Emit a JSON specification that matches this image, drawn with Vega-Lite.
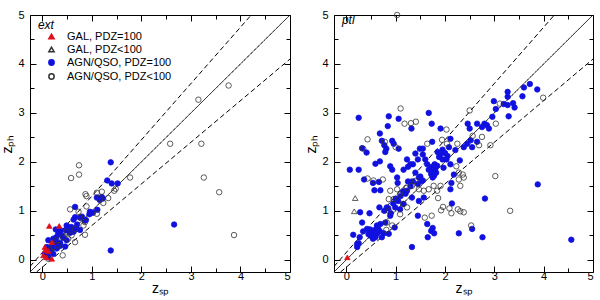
{
 "$schema": "https://vega.github.io/schema/vega-lite/v6.json",
 "padding": {"left": 0, "top": 8, "right": 0, "bottom": 0},
 "background": "white",
 "spacing": 13,
 "config": {
   "view": {"stroke": "black", "strokeWidth": 1},
   "font": "Liberation Sans",
   "axis": {"domain": false, "grid": false, "tickColor": "black", "labelColor": "black", "labelFontSize": 11, "labelFont": "Liberation Sans", "titleFont": "Liberation Sans", "titleFontSize": 14, "titleFontWeight": "normal", "titleColor": "black"},
   "axisX": {"titlePadding": 0, "labelPadding": 4},
   "axisY": {"titlePadding": 3, "labelPadding": 12}
 },
 "datasets": {
  "lines": [
   {"kind": "one", "zsp": -0.25, "zph": -0.25}, {"kind": "one", "zsp": 5, "zph": 5},
   {"kind": "upper", "zsp": -0.25, "zph": -0.1375}, {"kind": "upper", "zsp": 4.217, "zph": 5},
   {"kind": "lower", "zsp": -0.1176, "zph": -0.25}, {"kind": "lower", "zsp": 5, "zph": 4.1}
  ],
  "ext": [
   {"type":"AGN/QSO, PDZ=100","zsp":1.38,"zph":1.99},{"type":"AGN/QSO, PDZ=100","zsp":1.31,"zph":1.62},{"type":"AGN/QSO, PDZ=100","zsp":1.40,"zph":1.56},{"type":"AGN/QSO, PDZ=100","zsp":1.52,"zph":1.56},{"type":"AGN/QSO, PDZ=100","zsp":1.10,"zph":1.27},{"type":"AGN/QSO, PDZ=100","zsp":1.20,"zph":1.28},{"type":"AGN/QSO, PDZ=100","zsp":1.16,"zph":1.22},{"type":"AGN/QSO, PDZ=100","zsp":1.11,"zph":1.02},{"type":"AGN/QSO, PDZ=100","zsp":0.96,"zph":0.98},{"type":"AGN/QSO, PDZ=100","zsp":0.66,"zph":1.08},{"type":"AGN/QSO, PDZ=100","zsp":0.95,"zph":0.93},{"type":"AGN/QSO, PDZ=100","zsp":0.66,"zph":0.87},{"type":"AGN/QSO, PDZ=100","zsp":0.76,"zph":0.86},{"type":"AGN/QSO, PDZ=100","zsp":0.63,"zph":0.82},{"type":"AGN/QSO, PDZ=100","zsp":0.88,"zph":0.81},{"type":"AGN/QSO, PDZ=100","zsp":2.66,"zph":0.72},{"type":"AGN/QSO, PDZ=100","zsp":1.38,"zph":0.19},{"type":"AGN/QSO, PDZ=100","zsp":0.49,"zph":0.70},{"type":"AGN/QSO, PDZ=100","zsp":0.58,"zph":0.67},{"type":"AGN/QSO, PDZ=100","zsp":0.69,"zph":0.63},{"type":"AGN/QSO, PDZ=100","zsp":0.48,"zph":0.60},{"type":"AGN/QSO, PDZ=100","zsp":0.37,"zph":0.60},{"type":"AGN/QSO, PDZ=100","zsp":0.28,"zph":0.46},{"type":"AGN/QSO, PDZ=100","zsp":0.12,"zph":0.40},{"type":"AGN/QSO, PDZ=100","zsp":0.22,"zph":0.43},{"type":"AGN/QSO, PDZ=100","zsp":0.39,"zph":0.50},{"type":"AGN/QSO, PDZ=100","zsp":0.49,"zph":0.40},{"type":"AGN/QSO, PDZ=100","zsp":0.09,"zph":0.26},{"type":"AGN/QSO, PDZ=100","zsp":0.19,"zph":0.27},{"type":"AGN/QSO, PDZ=100","zsp":0.29,"zph":0.23},{"type":"AGN/QSO, PDZ=100","zsp":0.15,"zph":0.16},{"type":"AGN/QSO, PDZ=100","zsp":0.05,"zph":0.12},{"type":"AGN/QSO, PDZ=100","zsp":0.22,"zph":0.12},{"type":"AGN/QSO, PDZ=100","zsp":0.12,"zph":0.05},{"type":"AGN/QSO, PDZ=100","zsp":0.36,"zph":0.34},{"type":"AGN/QSO, PDZ=100","zsp":0.46,"zph":0.27},{"type":"AGN/QSO, PDZ=100","zsp":0.56,"zph":0.55},{"type":"AGN/QSO, PDZ=100","zsp":0.63,"zph":0.57},{"type":"AGN/QSO, PDZ=100","zsp":0.76,"zph":0.61},{"type":"AGN/QSO, PDZ=100","zsp":0.32,"zph":0.53},{"type":"AGN/QSO, PDZ=100","zsp":0.27,"zph":0.62},{"type":"AGN/QSO, PDZ=100","zsp":0.85,"zph":0.80},{"type":"AGN/QSO, PDZ=100","zsp":1.02,"zph":0.96},{"type":"AGN/QSO, PDZ=100","zsp":0.70,"zph":0.72},{"type":"AGN/QSO, PDZ=100","zsp":0.42,"zph":0.45},{"type":"AGN/QSO, PDZ=100","zsp":0.18,"zph":0.20},{"type":"AGN/QSO, PDZ=100","zsp":0.08,"zph":0.08},{"type":"AGN/QSO, PDZ=100","zsp":0.30,"zph":0.36},{"type":"AGN/QSO, PDZ=100","zsp":0.55,"zph":0.60},{"type":"AGN/QSO, PDZ=100","zsp":1.22,"zph":1.25},{"type":"AGN/QSO, PDZ=100","zsp":0.60,"zph":0.65},{"type":"AGN/QSO, PDZ=100","zsp":0.80,"zph":0.88},{"type":"AGN/QSO, PDZ=100","zsp":0.35,"zph":0.28},{"type":"AGN/QSO, PDZ=100","zsp":0.25,"zph":0.32},
   {"type":"AGN/QSO, PDZ<100","zsp":0.74,"zph":1.93},{"type":"AGN/QSO, PDZ<100","zsp":0.74,"zph":1.74},{"type":"AGN/QSO, PDZ<100","zsp":0.58,"zph":1.67},{"type":"AGN/QSO, PDZ<100","zsp":3.26,"zph":1.68},{"type":"AGN/QSO, PDZ<100","zsp":3.57,"zph":1.38},{"type":"AGN/QSO, PDZ<100","zsp":3.87,"zph":0.505},{"type":"AGN/QSO, PDZ<100","zsp":1.77,"zph":1.68},{"type":"AGN/QSO, PDZ<100","zsp":1.48,"zph":1.45},{"type":"AGN/QSO, PDZ<100","zsp":1.45,"zph":1.41},{"type":"AGN/QSO, PDZ<100","zsp":1.20,"zph":1.39},{"type":"AGN/QSO, PDZ<100","zsp":1.10,"zph":1.37},{"type":"AGN/QSO, PDZ<100","zsp":0.87,"zph":1.34},{"type":"AGN/QSO, PDZ<100","zsp":0.89,"zph":1.30},{"type":"AGN/QSO, PDZ<100","zsp":1.16,"zph":1.25},{"type":"AGN/QSO, PDZ<100","zsp":1.33,"zph":1.26},{"type":"AGN/QSO, PDZ<100","zsp":1.23,"zph":1.16},{"type":"AGN/QSO, PDZ<100","zsp":0.89,"zph":1.09},{"type":"AGN/QSO, PDZ<100","zsp":0.56,"zph":1.03},{"type":"AGN/QSO, PDZ<100","zsp":0.73,"zph":0.98},{"type":"AGN/QSO, PDZ<100","zsp":0.76,"zph":0.87},{"type":"AGN/QSO, PDZ<100","zsp":0.86,"zph":0.77},{"type":"AGN/QSO, PDZ<100","zsp":0.83,"zph":0.70},{"type":"AGN/QSO, PDZ<100","zsp":0.66,"zph":0.63},{"type":"AGN/QSO, PDZ<100","zsp":0.86,"zph":0.51},{"type":"AGN/QSO, PDZ<100","zsp":0.66,"zph":0.36},{"type":"AGN/QSO, PDZ<100","zsp":0.42,"zph":0.46},{"type":"AGN/QSO, PDZ<100","zsp":0.32,"zph":0.29},{"type":"AGN/QSO, PDZ<100","zsp":0.41,"zph":0.09},{"type":"AGN/QSO, PDZ<100","zsp":0.15,"zph":0.19},{"type":"AGN/QSO, PDZ<100","zsp":0.29,"zph":0.40},{"type":"AGN/QSO, PDZ<100","zsp":0.59,"zph":0.50},{"type":"AGN/QSO, PDZ<100","zsp":1.10,"zph":0.94},{"type":"AGN/QSO, PDZ<100","zsp":0.49,"zph":0.57},{"type":"AGN/QSO, PDZ<100","zsp":0.12,"zph":0.02},{"type":"AGN/QSO, PDZ<100","zsp":0.22,"zph":0.26},{"type":"AGN/QSO, PDZ<100","zsp":0.52,"zph":0.43},{"type":"AGN/QSO, PDZ<100","zsp":2.58,"zph":2.37},{"type":"AGN/QSO, PDZ<100","zsp":3.21,"zph":2.37},{"type":"AGN/QSO, PDZ<100","zsp":3.15,"zph":3.27},{"type":"AGN/QSO, PDZ<100","zsp":3.76,"zph":3.56},
   {"type":"GAL, PDZ=100","zsp":0.14,"zph":0.69},{"type":"GAL, PDZ=100","zsp":0.34,"zph":0.69},{"type":"GAL, PDZ=100","zsp":0.05,"zph":0.26},{"type":"GAL, PDZ=100","zsp":0.02,"zph":0.09},{"type":"GAL, PDZ=100","zsp":0.19,"zph":0.02},{"type":"GAL, PDZ=100","zsp":0.19,"zph":0.36},{"type":"GAL, PDZ=100","zsp":0.08,"zph":0.05},{"type":"GAL, PDZ=100","zsp":0.12,"zph":0.18},{"type":"GAL, PDZ=100","zsp":0.06,"zph":0.20}
  ],
  "ptl": [
   {"type":"AGN/QSO, PDZ=100","zsp":0.25,"zph":2.90},{"type":"AGN/QSO, PDZ=100","zsp":0.86,"zph":2.93},{"type":"AGN/QSO, PDZ=100","zsp":1.06,"zph":2.88},{"type":"AGN/QSO, PDZ=100","zsp":1.67,"zph":3.00},{"type":"AGN/QSO, PDZ=100","zsp":0.84,"zph":2.73},{"type":"AGN/QSO, PDZ=100","zsp":1.32,"zph":2.68},{"type":"AGN/QSO, PDZ=100","zsp":1.73,"zph":2.78},{"type":"AGN/QSO, PDZ=100","zsp":1.91,"zph":2.68},{"type":"AGN/QSO, PDZ=100","zsp":0.68,"zph":2.58},{"type":"AGN/QSO, PDZ=100","zsp":0.72,"zph":2.43},{"type":"AGN/QSO, PDZ=100","zsp":0.93,"zph":2.43},{"type":"AGN/QSO, PDZ=100","zsp":0.96,"zph":2.37},{"type":"AGN/QSO, PDZ=100","zsp":0.77,"zph":2.34},{"type":"AGN/QSO, PDZ=100","zsp":1.06,"zph":2.27},{"type":"AGN/QSO, PDZ=100","zsp":0.32,"zph":2.28},{"type":"AGN/QSO, PDZ=100","zsp":0.81,"zph":2.27},{"type":"AGN/QSO, PDZ=100","zsp":0.79,"zph":2.20},{"type":"AGN/QSO, PDZ=100","zsp":0.41,"zph":2.19},{"type":"AGN/QSO, PDZ=100","zsp":1.40,"zph":2.17},{"type":"AGN/QSO, PDZ=100","zsp":1.49,"zph":2.27},{"type":"AGN/QSO, PDZ=100","zsp":1.55,"zph":2.27},{"type":"AGN/QSO, PDZ=100","zsp":1.74,"zph":2.41},{"type":"AGN/QSO, PDZ=100","zsp":2.11,"zph":2.47},{"type":"AGN/QSO, PDZ=100","zsp":2.46,"zph":2.78},{"type":"AGN/QSO, PDZ=100","zsp":2.50,"zph":2.68},{"type":"AGN/QSO, PDZ=100","zsp":2.65,"zph":2.78},{"type":"AGN/QSO, PDZ=100","zsp":2.75,"zph":2.71},{"type":"AGN/QSO, PDZ=100","zsp":2.80,"zph":2.78},{"type":"AGN/QSO, PDZ=100","zsp":2.85,"zph":2.75},{"type":"AGN/QSO, PDZ=100","zsp":2.89,"zph":2.68},{"type":"AGN/QSO, PDZ=100","zsp":2.96,"zph":2.92},{"type":"AGN/QSO, PDZ=100","zsp":2.99,"zph":3.24},{"type":"AGN/QSO, PDZ=100","zsp":3.03,"zph":3.08},{"type":"AGN/QSO, PDZ=100","zsp":3.19,"zph":3.18},{"type":"AGN/QSO, PDZ=100","zsp":3.27,"zph":3.33},{"type":"AGN/QSO, PDZ=100","zsp":3.27,"zph":3.43},{"type":"AGN/QSO, PDZ=100","zsp":3.27,"zph":3.16},{"type":"AGN/QSO, PDZ=100","zsp":3.29,"zph":2.93},{"type":"AGN/QSO, PDZ=100","zsp":3.38,"zph":3.20},{"type":"AGN/QSO, PDZ=100","zsp":3.41,"zph":3.11},{"type":"AGN/QSO, PDZ=100","zsp":3.57,"zph":3.34},{"type":"AGN/QSO, PDZ=100","zsp":3.60,"zph":3.52},{"type":"AGN/QSO, PDZ=100","zsp":3.72,"zph":3.59},{"type":"AGN/QSO, PDZ=100","zsp":3.87,"zph":3.48},{"type":"AGN/QSO, PDZ=100","zsp":2.45,"zph":2.37},{"type":"AGN/QSO, PDZ=100","zsp":2.52,"zph":2.44},{"type":"AGN/QSO, PDZ=100","zsp":2.38,"zph":2.30},{"type":"AGN/QSO, PDZ=100","zsp":2.55,"zph":2.30},{"type":"AGN/QSO, PDZ=100","zsp":2.65,"zph":2.41},{"type":"AGN/QSO, PDZ=100","zsp":2.08,"zph":2.30},{"type":"AGN/QSO, PDZ=100","zsp":2.21,"zph":2.24},
   {"type":"AGN/QSO, PDZ=100","zsp":0.07,"zph":1.84},{"type":"AGN/QSO, PDZ=100","zsp":0.25,"zph":1.84},{"type":"AGN/QSO, PDZ=100","zsp":0.36,"zph":1.64},{"type":"AGN/QSO, PDZ=100","zsp":0.54,"zph":1.57},{"type":"AGN/QSO, PDZ=100","zsp":0.66,"zph":1.59},{"type":"AGN/QSO, PDZ=100","zsp":0.57,"zph":1.42},{"type":"AGN/QSO, PDZ=100","zsp":0.69,"zph":1.42},{"type":"AGN/QSO, PDZ=100","zsp":0.59,"zph":1.96},{"type":"AGN/QSO, PDZ=100","zsp":0.68,"zph":2.01},{"type":"AGN/QSO, PDZ=100","zsp":0.89,"zph":1.91},{"type":"AGN/QSO, PDZ=100","zsp":0.93,"zph":1.84},{"type":"AGN/QSO, PDZ=100","zsp":1.03,"zph":1.68},{"type":"AGN/QSO, PDZ=100","zsp":1.04,"zph":1.57},{"type":"AGN/QSO, PDZ=100","zsp":1.23,"zph":2.05},{"type":"AGN/QSO, PDZ=100","zsp":1.16,"zph":1.84},{"type":"AGN/QSO, PDZ=100","zsp":1.30,"zph":1.95},{"type":"AGN/QSO, PDZ=100","zsp":1.40,"zph":1.78},{"type":"AGN/QSO, PDZ=100","zsp":1.47,"zph":1.68},{"type":"AGN/QSO, PDZ=100","zsp":1.53,"zph":1.61},{"type":"AGN/QSO, PDZ=100","zsp":1.64,"zph":1.95},{"type":"AGN/QSO, PDZ=100","zsp":1.67,"zph":1.84},{"type":"AGN/QSO, PDZ=100","zsp":1.97,"zph":1.88},{"type":"AGN/QSO, PDZ=100","zsp":2.03,"zph":2.05},{"type":"AGN/QSO, PDZ=100","zsp":2.11,"zph":1.95},{"type":"AGN/QSO, PDZ=100","zsp":2.30,"zph":2.03},{"type":"AGN/QSO, PDZ=100","zsp":2.18,"zph":1.74},{"type":"AGN/QSO, PDZ=100","zsp":2.13,"zph":1.57},{"type":"AGN/QSO, PDZ=100","zsp":2.11,"zph":1.44},{"type":"AGN/QSO, PDZ=100","zsp":2.14,"zph":1.15},{"type":"AGN/QSO, PDZ=100","zsp":1.23,"zph":1.41},{"type":"AGN/QSO, PDZ=100","zsp":1.33,"zph":1.27},{"type":"AGN/QSO, PDZ=100","zsp":1.47,"zph":1.20},{"type":"AGN/QSO, PDZ=100","zsp":1.57,"zph":1.27},{"type":"AGN/QSO, PDZ=100","zsp":1.16,"zph":1.14},{"type":"AGN/QSO, PDZ=100","zsp":1.09,"zph":1.03},{"type":"AGN/QSO, PDZ=100","zsp":0.99,"zph":1.07},{"type":"AGN/QSO, PDZ=100","zsp":0.82,"zph":1.07},{"type":"AGN/QSO, PDZ=100","zsp":0.77,"zph":1.00},{"type":"AGN/QSO, PDZ=100","zsp":0.89,"zph":0.90},{"type":"AGN/QSO, PDZ=100","zsp":0.79,"zph":0.76},{"type":"AGN/QSO, PDZ=100","zsp":0.69,"zph":0.73},{"type":"AGN/QSO, PDZ=100","zsp":0.62,"zph":0.66},{"type":"AGN/QSO, PDZ=100","zsp":0.55,"zph":0.56},{"type":"AGN/QSO, PDZ=100","zsp":0.49,"zph":0.49},{"type":"AGN/QSO, PDZ=100","zsp":0.59,"zph":0.46},{"type":"AGN/QSO, PDZ=100","zsp":0.42,"zph":0.63},{"type":"AGN/QSO, PDZ=100","zsp":0.32,"zph":0.76},{"type":"AGN/QSO, PDZ=100","zsp":0.28,"zph":0.97},{"type":"AGN/QSO, PDZ=100","zsp":0.47,"zph":0.95},{"type":"AGN/QSO, PDZ=100","zsp":0.34,"zph":0.58},{"type":"AGN/QSO, PDZ=100","zsp":0.27,"zph":0.46},{"type":"AGN/QSO, PDZ=100","zsp":0.25,"zph":0.34},{"type":"AGN/QSO, PDZ=100","zsp":0.22,"zph":0.26},{"type":"AGN/QSO, PDZ=100","zsp":0.14,"zph":0.51},{"type":"AGN/QSO, PDZ=100","zsp":1.33,"zph":0.26},{"type":"AGN/QSO, PDZ=100","zsp":1.45,"zph":0.90},{"type":"AGN/QSO, PDZ=100","zsp":1.64,"zph":0.73},{"type":"AGN/QSO, PDZ=100","zsp":1.65,"zph":0.46},{"type":"AGN/QSO, PDZ=100","zsp":1.72,"zph":0.59},{"type":"AGN/QSO, PDZ=100","zsp":1.78,"zph":0.54},{"type":"AGN/QSO, PDZ=100","zsp":1.75,"zph":0.65},{"type":"AGN/QSO, PDZ=100","zsp":2.28,"zph":0.54},{"type":"AGN/QSO, PDZ=100","zsp":2.55,"zph":0.63},{"type":"AGN/QSO, PDZ=100","zsp":2.76,"zph":0.46},{"type":"AGN/QSO, PDZ=100","zsp":2.81,"zph":1.25},{"type":"AGN/QSO, PDZ=100","zsp":3.88,"zph":1.54},{"type":"AGN/QSO, PDZ=100","zsp":4.56,"zph":0.41},{"type":"AGN/QSO, PDZ=100","zsp":0.67,"zph":1.07},{"type":"AGN/QSO, PDZ=100","zsp":0.98,"zph":0.66},{"type":"AGN/QSO, PDZ=100","zsp":0.86,"zph":0.53},{"type":"AGN/QSO, PDZ=100","zsp":0.72,"zph":0.46},{"type":"AGN/QSO, PDZ=100","zsp":0.76,"zph":0.54},{"type":"AGN/QSO, PDZ=100","zsp":0.62,"zph":0.53},{"type":"AGN/QSO, PDZ=100","zsp":0.54,"zph":0.43},
   {"type":"AGN/QSO, PDZ=100","zsp":1.72,"zph":1.75},{"type":"AGN/QSO, PDZ=100","zsp":1.76,"zph":1.80},{"type":"AGN/QSO, PDZ=100","zsp":1.80,"zph":1.85},{"type":"AGN/QSO, PDZ=100","zsp":1.74,"zph":1.90},{"type":"AGN/QSO, PDZ=100","zsp":1.78,"zph":1.72},{"type":"AGN/QSO, PDZ=100","zsp":1.82,"zph":1.78},{"type":"AGN/QSO, PDZ=100","zsp":1.70,"zph":1.85},{"type":"AGN/QSO, PDZ=100","zsp":1.84,"zph":1.92},{"type":"AGN/QSO, PDZ=100","zsp":1.79,"zph":1.95},{"type":"AGN/QSO, PDZ=100","zsp":1.75,"zph":1.68},{"type":"AGN/QSO, PDZ=100","zsp":1.85,"zph":2.20},{"type":"AGN/QSO, PDZ=100","zsp":1.90,"zph":2.15},{"type":"AGN/QSO, PDZ=100","zsp":1.95,"zph":2.25},{"type":"AGN/QSO, PDZ=100","zsp":2.00,"zph":2.18},{"type":"AGN/QSO, PDZ=100","zsp":1.88,"zph":2.10},{"type":"AGN/QSO, PDZ=100","zsp":1.95,"zph":2.05},{"type":"AGN/QSO, PDZ=100","zsp":2.05,"zph":2.12},{"type":"AGN/QSO, PDZ=100","zsp":1.60,"zph":2.05},{"type":"AGN/QSO, PDZ=100","zsp":1.55,"zph":2.15},{"type":"AGN/QSO, PDZ=100","zsp":1.45,"zph":2.05},{"type":"AGN/QSO, PDZ=100","zsp":1.35,"zph":1.95},{"type":"AGN/QSO, PDZ=100","zsp":1.25,"zph":1.90},{"type":"AGN/QSO, PDZ=100","zsp":0.50,"zph":0.55},{"type":"AGN/QSO, PDZ=100","zsp":0.55,"zph":0.60},{"type":"AGN/QSO, PDZ=100","zsp":0.60,"zph":0.58},{"type":"AGN/QSO, PDZ=100","zsp":0.52,"zph":0.50},{"type":"AGN/QSO, PDZ=100","zsp":0.58,"zph":0.52},{"type":"AGN/QSO, PDZ=100","zsp":0.65,"zph":0.62},{"type":"AGN/QSO, PDZ=100","zsp":0.48,"zph":0.62},{"type":"AGN/QSO, PDZ=100","zsp":0.62,"zph":0.70},{"type":"AGN/QSO, PDZ=100","zsp":0.45,"zph":0.52},{"type":"AGN/QSO, PDZ=100","zsp":0.68,"zph":0.58},{"type":"AGN/QSO, PDZ=100","zsp":0.85,"zph":1.05},{"type":"AGN/QSO, PDZ=100","zsp":0.95,"zph":1.15},{"type":"AGN/QSO, PDZ=100","zsp":1.05,"zph":1.20},{"type":"AGN/QSO, PDZ=100","zsp":1.10,"zph":1.30},{"type":"AGN/QSO, PDZ=100","zsp":1.15,"zph":1.40},{"type":"AGN/QSO, PDZ=100","zsp":1.20,"zph":1.35},{"type":"AGN/QSO, PDZ=100","zsp":1.00,"zph":1.25},{"type":"AGN/QSO, PDZ=100","zsp":0.90,"zph":0.95},{"type":"AGN/QSO, PDZ=100","zsp":1.30,"zph":1.50},{"type":"AGN/QSO, PDZ=100","zsp":1.35,"zph":1.60},{"type":"AGN/QSO, PDZ=100","zsp":1.45,"zph":1.55},{"type":"AGN/QSO, PDZ=100","zsp":1.50,"zph":1.70},{"type":"AGN/QSO, PDZ=100","zsp":1.55,"zph":1.62},{"type":"AGN/QSO, PDZ=100","zsp":1.25,"zph":1.60},{"type":"AGN/QSO, PDZ=100","zsp":0.22,"zph":0.32},
   {"type":"AGN/QSO, PDZ<100","zsp":1.03,"zph":5.0},{"type":"AGN/QSO, PDZ<100","zsp":1.10,"zph":3.09},{"type":"AGN/QSO, PDZ<100","zsp":1.18,"zph":2.78},{"type":"AGN/QSO, PDZ<100","zsp":1.31,"zph":2.79},{"type":"AGN/QSO, PDZ<100","zsp":1.41,"zph":2.82},{"type":"AGN/QSO, PDZ<100","zsp":0.43,"zph":2.46},{"type":"AGN/QSO, PDZ<100","zsp":0.34,"zph":2.27},{"type":"AGN/QSO, PDZ<100","zsp":0.78,"zph":2.41},{"type":"AGN/QSO, PDZ<100","zsp":1.00,"zph":2.30},{"type":"AGN/QSO, PDZ<100","zsp":2.03,"zph":2.66},{"type":"AGN/QSO, PDZ<100","zsp":2.50,"zph":3.05},{"type":"AGN/QSO, PDZ<100","zsp":3.11,"zph":3.19},{"type":"AGN/QSO, PDZ<100","zsp":3.03,"zph":2.78},{"type":"AGN/QSO, PDZ<100","zsp":3.99,"zph":3.31},{"type":"AGN/QSO, PDZ<100","zsp":1.94,"zph":2.45},{"type":"AGN/QSO, PDZ<100","zsp":2.25,"zph":2.37},{"type":"AGN/QSO, PDZ<100","zsp":2.75,"zph":2.51},{"type":"AGN/QSO, PDZ<100","zsp":2.56,"zph":2.53},{"type":"AGN/QSO, PDZ<100","zsp":2.69,"zph":2.34},{"type":"AGN/QSO, PDZ<100","zsp":2.92,"zph":2.34},{"type":"AGN/QSO, PDZ<100","zsp":1.64,"zph":2.37},{"type":"AGN/QSO, PDZ<100","zsp":2.04,"zph":2.37},
   {"type":"AGN/QSO, PDZ<100","zsp":0.43,"zph":1.66},{"type":"AGN/QSO, PDZ<100","zsp":0.55,"zph":1.62},{"type":"AGN/QSO, PDZ<100","zsp":0.74,"zph":1.64},{"type":"AGN/QSO, PDZ<100","zsp":0.86,"zph":1.24},{"type":"AGN/QSO, PDZ<100","zsp":0.96,"zph":1.24},{"type":"AGN/QSO, PDZ<100","zsp":0.89,"zph":1.41},{"type":"AGN/QSO, PDZ<100","zsp":1.03,"zph":1.44},{"type":"AGN/QSO, PDZ<100","zsp":1.09,"zph":1.34},{"type":"AGN/QSO, PDZ<100","zsp":1.23,"zph":1.47},{"type":"AGN/QSO, PDZ<100","zsp":1.33,"zph":1.51},{"type":"AGN/QSO, PDZ<100","zsp":1.40,"zph":1.61},{"type":"AGN/QSO, PDZ<100","zsp":1.47,"zph":1.44},{"type":"AGN/QSO, PDZ<100","zsp":1.57,"zph":1.41},{"type":"AGN/QSO, PDZ<100","zsp":1.67,"zph":1.44},{"type":"AGN/QSO, PDZ<100","zsp":1.77,"zph":1.51},{"type":"AGN/QSO, PDZ<100","zsp":1.84,"zph":1.41},{"type":"AGN/QSO, PDZ<100","zsp":1.91,"zph":1.51},{"type":"AGN/QSO, PDZ<100","zsp":1.86,"zph":1.26},{"type":"AGN/QSO, PDZ<100","zsp":1.96,"zph":1.08},{"type":"AGN/QSO, PDZ<100","zsp":1.92,"zph":1.01},{"type":"AGN/QSO, PDZ<100","zsp":2.09,"zph":1.05},{"type":"AGN/QSO, PDZ<100","zsp":2.13,"zph":0.95},{"type":"AGN/QSO, PDZ<100","zsp":2.26,"zph":1.03},{"type":"AGN/QSO, PDZ<100","zsp":2.31,"zph":0.99},{"type":"AGN/QSO, PDZ<100","zsp":2.38,"zph":0.97},{"type":"AGN/QSO, PDZ<100","zsp":1.59,"zph":0.86},{"type":"AGN/QSO, PDZ<100","zsp":1.73,"zph":0.90},{"type":"AGN/QSO, PDZ<100","zsp":2.53,"zph":0.70},{"type":"AGN/QSO, PDZ<100","zsp":3.02,"zph":1.71},{"type":"AGN/QSO, PDZ<100","zsp":3.32,"zph":1.00},{"type":"AGN/QSO, PDZ<100","zsp":2.28,"zph":1.78},{"type":"AGN/QSO, PDZ<100","zsp":2.36,"zph":1.74},{"type":"AGN/QSO, PDZ<100","zsp":2.28,"zph":1.64},{"type":"AGN/QSO, PDZ<100","zsp":2.31,"zph":1.51},{"type":"AGN/QSO, PDZ<100","zsp":2.38,"zph":1.68},{"type":"AGN/QSO, PDZ<100","zsp":2.23,"zph":1.91},{"type":"AGN/QSO, PDZ<100","zsp":0.93,"zph":0.70},{"type":"AGN/QSO, PDZ<100","zsp":0.82,"zph":0.76},{"type":"AGN/QSO, PDZ<100","zsp":0.81,"zph":0.61},{"type":"AGN/QSO, PDZ<100","zsp":0.86,"zph":1.00},{"type":"AGN/QSO, PDZ<100","zsp":1.09,"zph":0.93},{"type":"AGN/QSO, PDZ<100","zsp":1.15,"zph":1.14},{"type":"AGN/QSO, PDZ<100","zsp":1.23,"zph":1.07},
   {"type":"GAL, PDZ<100","zsp":0.18,"zph":1.26},{"type":"GAL, PDZ<100","zsp":0.16,"zph":0.99},
   {"type":"GAL, PDZ=100","zsp":0.02,"zph":0.05}
  ]
 },
 "resolve": {"legend": {"shape": "independent", "fill": "independent", "stroke": "independent"}},
 "hconcat": [
  {
   "width": 260, "height": 257,
   "layer": [
    {"data": {"name": "lines"}, "mark": {"type": "line", "color": "black", "strokeWidth": 1, "clip": true},
     "encoding": {
      "x": {"field": "zsp", "type": "quantitative", "scale": {"domain": [-0.25, 5], "nice": false, "zero": false}, "axis": {"orient": "top", "labels": false, "title": null, "values": [0,0.5,1,1.5,2,2.5,3,3.5,4,4.5,5], "tickSize": {"condition": {"test": "datum.value % 1 === 0", "value": -6}, "value": -4}}},
      "y": {"field": "zph", "type": "quantitative", "scale": {"domain": [-0.25, 5], "nice": false, "zero": false}, "axis": {"orient": "right", "labels": false, "title": null, "values": [0,0.5,1,1.5,2,2.5,3,3.5,4,4.5,5], "tickSize": {"condition": {"test": "datum.value % 1 === 0", "value": -6}, "value": -4}}},
      "detail": {"field": "kind"},
      "strokeDash": {"field": "kind", "type": "nominal", "scale": {"domain": ["one", "upper", "lower"], "range": [[1, 0], [5, 3], [5, 3]]}, "legend": null}
     }},
    {"data": {"name": "ext"}, "mark": {"type": "point", "filled": true, "size": 30, "strokeWidth": 0.8, "opacity": 1, "clip": true},
     "encoding": {
      "x": {"field": "zsp", "type": "quantitative", "scale": {"domain": [-0.25, 5], "nice": false, "zero": false}, "axis": {"title": "zₛₚ", "values": [0,0.5,1,1.5,2,2.5,3,3.5,4,4.5,5], "labelExpr": "datum.value % 1 === 0 ? format(datum.value, 'd') : ''", "tickSize": {"condition": {"test": "datum.value % 1 === 0", "value": -6}, "value": -4}}},
      "y": {"field": "zph", "type": "quantitative", "scale": {"domain": [-0.25, 5], "nice": false, "zero": false}, "axis": {"title": "zₚₕ", "values": [0,0.5,1,1.5,2,2.5,3,3.5,4,4.5,5], "labelExpr": "datum.value % 1 === 0 ? format(datum.value, 'd') : ''", "tickSize": {"condition": {"test": "datum.value % 1 === 0", "value": -6}, "value": -4}}},
      "shape": {"field": "type", "type": "nominal", "scale": {"domain": ["GAL, PDZ=100", "GAL, PDZ<100", "AGN/QSO, PDZ=100", "AGN/QSO, PDZ<100"], "range": ["triangle-up", "triangle-up", "circle", "circle"]}, "legend": {"orient": "none", "legendX": 16, "legendY": 16, "title": null, "labelFontSize": 11, "labelFont": "Liberation Sans", "labelColor": "black", "symbolSize": 28, "rowPadding": 1, "labelOffset": 10}},
      "fill": {"field": "type", "type": "nominal", "scale": {"domain": ["GAL, PDZ=100", "GAL, PDZ<100", "AGN/QSO, PDZ=100", "AGN/QSO, PDZ<100"], "range": ["#e0101a", "transparent", "#1010e0", "transparent"]}, "legend": {"orient": "none", "legendX": 16, "legendY": 16, "title": null, "labelFontSize": 11, "labelFont": "Liberation Sans", "labelColor": "black", "symbolSize": 28, "rowPadding": 1, "labelOffset": 10}},
      "stroke": {"field": "type", "type": "nominal", "scale": {"domain": ["GAL, PDZ=100", "GAL, PDZ<100", "AGN/QSO, PDZ=100", "AGN/QSO, PDZ<100"], "range": ["#e0101a", "#333333", "#1010e0", "#333333"]}, "legend": {"orient": "none", "legendX": 16, "legendY": 16, "title": null, "labelFontSize": 11, "labelFont": "Liberation Sans", "labelColor": "black", "symbolSize": 28, "rowPadding": 1, "labelOffset": 10}}
     }},
    {"data": {"values": [{}]}, "mark": {"type": "text", "text": "ext", "fontStyle": "italic", "fontSize": 12, "font": "Liberation Sans", "align": "left", "baseline": "middle"},
     "encoding": {"x": {"datum": -0.09, "type": "quantitative", "axis": null}, "y": {"datum": 4.8, "type": "quantitative", "axis": null}}}
   ],
   "resolve": {"axis": {"x": "independent", "y": "independent"}}
  },
  {
   "width": 259, "height": 257,
   "layer": [
    {"data": {"name": "lines"}, "mark": {"type": "line", "color": "black", "strokeWidth": 1, "clip": true},
     "encoding": {
      "x": {"field": "zsp", "type": "quantitative", "scale": {"domain": [-0.25, 5], "nice": false, "zero": false}, "axis": {"orient": "top", "labels": false, "title": null, "values": [0,0.5,1,1.5,2,2.5,3,3.5,4,4.5,5], "tickSize": {"condition": {"test": "datum.value % 1 === 0", "value": -6}, "value": -4}}},
      "y": {"field": "zph", "type": "quantitative", "scale": {"domain": [-0.25, 5], "nice": false, "zero": false}, "axis": {"orient": "right", "labels": false, "title": null, "values": [0,0.5,1,1.5,2,2.5,3,3.5,4,4.5,5], "tickSize": {"condition": {"test": "datum.value % 1 === 0", "value": -6}, "value": -4}}},
      "detail": {"field": "kind"},
      "strokeDash": {"field": "kind", "type": "nominal", "scale": {"domain": ["one", "upper", "lower"], "range": [[1, 0], [5, 3], [5, 3]]}, "legend": null}
     }},
    {"data": {"name": "ptl"}, "mark": {"type": "point", "filled": true, "size": 30, "strokeWidth": 0.8, "opacity": 1, "clip": false},
     "encoding": {
      "x": {"field": "zsp", "type": "quantitative", "scale": {"domain": [-0.25, 5], "nice": false, "zero": false}, "axis": {"title": "zₛₚ", "values": [0,0.5,1,1.5,2,2.5,3,3.5,4,4.5,5], "labelExpr": "datum.value % 1 === 0 ? format(datum.value, 'd') : ''", "tickSize": {"condition": {"test": "datum.value % 1 === 0", "value": -6}, "value": -4}}},
      "y": {"field": "zph", "type": "quantitative", "scale": {"domain": [-0.25, 5], "nice": false, "zero": false}, "axis": {"title": "zₚₕ", "values": [0,0.5,1,1.5,2,2.5,3,3.5,4,4.5,5], "labelExpr": "datum.value % 1 === 0 ? format(datum.value, 'd') : ''", "tickSize": {"condition": {"test": "datum.value % 1 === 0", "value": -6}, "value": -4}}},
      "shape": {"field": "type", "type": "nominal", "scale": {"domain": ["GAL, PDZ=100", "GAL, PDZ<100", "AGN/QSO, PDZ=100", "AGN/QSO, PDZ<100"], "range": ["triangle-up", "triangle-up", "circle", "circle"]}, "legend": null},
      "fill": {"field": "type", "type": "nominal", "scale": {"domain": ["GAL, PDZ=100", "GAL, PDZ<100", "AGN/QSO, PDZ=100", "AGN/QSO, PDZ<100"], "range": ["#e0101a", "transparent", "#1010e0", "transparent"]}, "legend": null},
      "stroke": {"field": "type", "type": "nominal", "scale": {"domain": ["GAL, PDZ=100", "GAL, PDZ<100", "AGN/QSO, PDZ=100", "AGN/QSO, PDZ<100"], "range": ["#e0101a", "#333333", "#1010e0", "#333333"]}, "legend": null}
     }},
    {"data": {"values": [{}]}, "mark": {"type": "text", "text": "ptl", "fontStyle": "italic", "fontSize": 12, "font": "Liberation Sans", "align": "left", "baseline": "middle"},
     "encoding": {"x": {"datum": -0.09, "type": "quantitative", "axis": null}, "y": {"datum": 4.9, "type": "quantitative", "axis": null}}}
   ],
   "resolve": {"axis": {"x": "independent", "y": "independent"}}
  }
 ]
}
